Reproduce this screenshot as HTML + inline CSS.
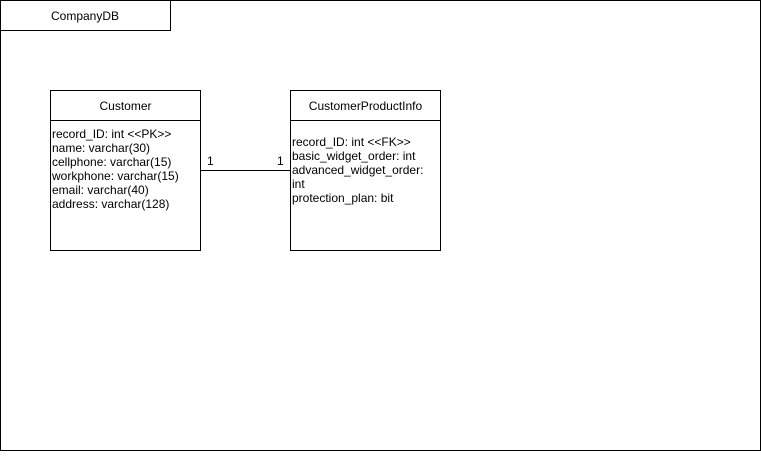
<!DOCTYPE html>
<html><head><style>body{margin:0;background:#fff}</style></head><body>
<svg width="761" height="451" xmlns="http://www.w3.org/2000/svg" font-family="Liberation Sans, Arial, sans-serif" font-size="12" fill="#000">
<rect x="0.5" y="0.5" width="760" height="450" fill="#fff" stroke="#000"/>
<rect x="0.5" y="0.5" width="170" height="30" fill="#fff" stroke="#000"/>
<text x="85" y="20" text-anchor="middle">CompanyDB</text>
<rect x="50.5" y="90.5" width="150" height="160" fill="#fff" stroke="#000"/>
<line x1="50.5" y1="120.5" x2="200.5" y2="120.5" stroke="#000"/>
<text x="125.5" y="110" text-anchor="middle">Customer</text>
<text x="52" y="138">record_ID: int &lt;&lt;PK&gt;&gt;</text>
<text x="52" y="152">name: varchar(30)</text>
<text x="52" y="166">cellphone: varchar(15)</text>
<text x="52" y="180">workphone: varchar(15)</text>
<text x="52" y="194">email: varchar(40)</text>
<text x="52" y="208">address: varchar(128)</text>
<rect x="290.5" y="90.5" width="150" height="160" fill="#fff" stroke="#000"/>
<line x1="290.5" y1="120.5" x2="440.5" y2="120.5" stroke="#000"/>
<text x="365.5" y="110" text-anchor="middle">CustomerProductInfo</text>
<text x="292" y="146">record_ID: int &lt;&lt;FK&gt;&gt;</text>
<text x="292" y="160">basic_widget_order: int</text>
<text x="292" y="174">advanced_widget_order:</text>
<text x="292" y="188">int</text>
<text x="292" y="202">protection_plan: bit</text>
<line x1="200.5" y1="170.5" x2="290.5" y2="170.5" stroke="#000"/>
<text x="207" y="165">1</text>
<text x="277" y="165">1</text>
</svg>
</body></html>
